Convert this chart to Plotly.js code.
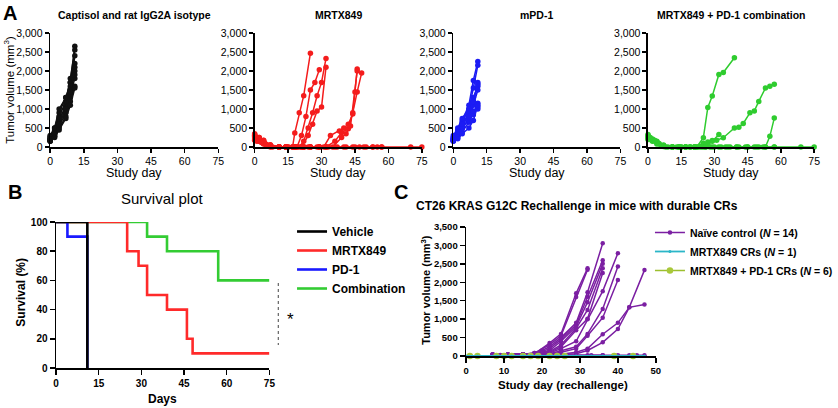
<!DOCTYPE html>
<html><head><meta charset="utf-8">
<script src="https://cdn.plot.ly/plotly-3.0.1.min.js"></script>
<style>html,body{margin:0;padding:0;background:#fff}#chart{width:838px;height:408px}</style>
</head><body><div id="chart"></div>
<script>
const W = 838, H = 408;
const FONT = 'Arial, "Liberation Sans", sans-serif';

// ---------- Panel A data ----------
const panelATitles = ['Captisol and rat IgG2A isotype', 'MRTX849', 'mPD-1', 'MRTX849 + PD-1 combination'];
const studyDayTicks = [0, 15, 30, 45, 60, 75];
const volumeTicksA = [0, 500, 1000, 1500, 2000, 2500, 3000];

const vehicleDays = [0, 2, 4, 7, 9, 11];
const vehicleVolumes = [
  [200, 400, 700, 1100, 1700, 2650],
  [250, 450, 800, 1200, 1800, 2550],
  [150, 350, 600, 1000, 1500, 2400],
  [300, 500, 900, 1300, 1700, 2200],
  [180, 300, 550, 900, 1300, 2000],
  [220, 420, 750, 1000, 1400, 1800],
  [170, 280, 500, 800, 1200, 1600],
  [260, 500, 1000, 1300, 1600, 1900],
  [200, 350, 600, 1000, 1450, 2100],
  [150, 250, 450, 750, 1100, 1550]
];

const mrtxDays = [
  [0, 2, 4, 7, 11, 14, 17, 18, 20, 22, 25],
  [0, 2, 4, 7, 11, 14, 17, 19, 21, 23, 25, 27, 29],
  [0, 2, 4, 7, 11, 14, 18, 20, 22, 24, 26, 28, 30, 32],
  [0, 2, 4, 7, 11, 14, 18, 21, 24, 26, 28, 30, 32],
  [0, 2, 4, 7, 11, 14, 18, 22, 25, 29, 31, 34, 38, 40, 42, 44, 46],
  [0, 2, 4, 7, 11, 14, 18, 22, 25, 29, 32, 36, 39, 42, 44, 46, 48],
  [0, 2, 4, 7, 11, 14, 18, 22, 25, 29, 32, 35, 39, 41, 43, 45, 46],
  [0, 2, 4, 7, 11, 15, 18, 22, 25, 29, 32, 36, 40, 44, 47, 50, 53, 55, 57],
  [0, 2, 4, 7, 11, 15, 18, 22, 25, 29, 33, 37, 41, 45, 49, 53, 57, 70, 75],
  [0, 1, 3, 5, 8, 11, 14, 17, 19, 21, 24, 28]
];
const mrtxVolumes = [
  [300, 220, 150, 40, 0, 0, 0, 370, 900, 1350, 2470],
  [250, 180, 100, 20, 0, 0, 0, 0, 300, 800, 1500, 1700, 2030],
  [350, 250, 180, 50, 0, 0, 0, 0, 150, 500, 900, 1350, 1700, 2330],
  [200, 150, 80, 0, 0, 0, 0, 0, 300, 600, 950, 1050, 2100],
  [280, 200, 120, 30, 0, 0, 0, 0, 0, 0, 0, 300, 420, 500, 600, 870, 2050],
  [220, 160, 90, 10, 0, 0, 0, 0, 0, 0, 0, 150, 380, 480, 900, 1450, 1950],
  [330, 250, 170, 60, 0, 0, 0, 0, 0, 0, 0, 0, 250, 350, 550, 1450, 2000],
  [260, 200, 100, 20, 0, 0, 0, 0, 0, 0, 0, 0, 0, 0, 0, 0, 0, 0, 0],
  [310, 230, 140, 30, 0, 0, 0, 0, 0, 0, 0, 0, 0, 0, 0, 0, 0, 0, 0],
  [180, 150, 120, 60, 0, 0, 0, 0, 0, 0, 0, 0]
];

const pd1Days = [0, 2, 4, 7, 9, 11];
const pd1Volumes = [
  [250, 450, 700, 1100, 1750, 2250],
  [200, 400, 650, 1000, 1550, 2150],
  [150, 300, 550, 850, 1200, 1700],
  [300, 500, 750, 1000, 1300, 1600],
  [180, 350, 500, 750, 1100, 1500],
  [220, 380, 600, 900, 1200, 1650],
  [160, 250, 400, 650, 900, 1150],
  [200, 300, 500, 700, 850, 1050],
  [250, 400, 600, 800, 950, 1000],
  [170, 220, 350, 500, 700, 1100]
];

const comboDays = [
  [0, 2, 4, 7, 11, 14, 17, 19, 22, 25, 27, 29, 32, 34, 39],
  [0, 2, 4, 7, 11, 14, 17, 21, 25, 27, 29, 31, 34, 39, 41, 43, 46, 48, 50, 53, 55, 57],
  [0, 2, 4, 7, 11, 14, 17, 21, 25, 27, 29, 32],
  [0, 2, 4, 7, 11, 14, 17, 21, 25, 29, 33, 37, 41, 45, 49, 53, 55, 57],
  [0, 1, 3, 5, 7, 11, 15, 19, 22, 26, 30, 35, 40, 45, 50, 53, 57, 69, 75],
  [0, 2, 4, 6, 9, 13, 17, 21, 24, 28, 32, 36, 40, 44, 48, 52, 57],
  [0, 1, 3, 5, 8, 11, 15, 19, 23, 26]
];
const comboVolumes = [
  [300, 200, 150, 50, 0, 0, 0, 0, 0, 245, 1040, 1340, 1910, 1960, 2350],
  [250, 180, 120, 30, 0, 0, 0, 0, 50, 130, 170, 180, 245, 500, 520, 620, 900, 950, 1200, 1550, 1600, 1650],
  [280, 210, 140, 40, 0, 0, 0, 0, 100, 60, 150, 330],
  [200, 150, 80, 10, 0, 0, 0, 0, 0, 0, 0, 0, 0, 0, 0, 0, 280, 760],
  [330, 250, 180, 90, 20, 0, 0, 0, 0, 0, 0, 0, 0, 0, 0, 0, 0, 0, 0],
  [220, 170, 110, 40, 0, 0, 0, 0, 0, 0, 0, 0, 0, 0, 0, 0, 0],
  [260, 200, 150, 80, 0, 0, 0, 0, 0, 0]
];

// ---------- Panel B data (Kaplan-Meier steps) ----------
const survivalTicksX = [0, 15, 30, 45, 60, 75];
const survivalTicksY = [0, 20, 40, 60, 80, 100];
const vehicleSurvDays = [0, 11, 11];
const vehicleSurv = [100, 0, 0];
const mrtxSurvDays = [0, 25, 29, 32, 39, 46, 48, 75];
const mrtxSurv = [100, 80, 70, 50, 40, 20, 10, 10];
const pd1SurvDays = [0, 4, 11, 11];
const pd1Surv = [100, 90, 0, 0];
const comboSurvDays = [0, 32, 39, 57, 75];
const comboSurv = [100, 90, 80, 60, 60];

// ---------- Panel C data ----------
const rechallengeTicksX = [0, 10, 20, 30, 40, 50];
const volumeTicksC = [0, 500, 1000, 1500, 2000, 2500, 3000, 3500];
const naiveDays = [
  [7, 11, 15, 18, 22, 25, 29, 32],
  [7, 11, 15, 18, 22, 25, 29, 32],
  [7, 11, 15, 18, 20, 22, 25, 29, 32, 36],
  [7, 11, 15, 18, 20, 22, 25, 29, 32, 36],
  [7, 11, 15, 18, 20, 22, 25, 29, 32, 36],
  [7, 11, 15, 18, 20, 22, 25, 29, 32, 36],
  [7, 11, 15, 18, 20, 22, 25, 29, 32, 36],
  [7, 11, 15, 18, 22, 25, 29, 32, 36, 40],
  [7, 11, 15, 18, 22, 25, 29, 32, 36, 40],
  [7, 11, 15, 18, 22, 25, 29, 32, 36, 40],
  [7, 11, 15, 18, 22, 25, 29, 32, 36, 40, 43, 47],
  [7, 11, 15, 18, 22, 25, 29, 32, 36, 40, 43, 47],
  [7, 9, 11, 15, 18, 20, 22, 25, 29, 33, 36, 40, 43, 45, 47],
  [7, 11, 15, 18, 22, 25, 29, 32, 36]
];
const naiveVolumes = [
  [40, 40, 50, 60, 350, 600, 1700, 2380],
  [30, 30, 40, 80, 300, 550, 1600, 2340],
  [40, 40, 50, 80, 150, 250, 500, 900, 1730, 3060],
  [30, 30, 40, 70, 120, 200, 450, 850, 1610, 2600],
  [40, 40, 40, 60, 100, 150, 400, 800, 1460, 2500],
  [30, 30, 40, 50, 80, 120, 300, 750, 1250, 2380],
  [30, 40, 40, 50, 70, 100, 250, 700, 1010, 2250],
  [30, 30, 40, 50, 80, 200, 400, 1000, 1760, 2790],
  [30, 30, 40, 50, 60, 150, 250, 600, 1275, 2430],
  [30, 30, 40, 40, 50, 100, 200, 550, 1040, 2060],
  [40, 40, 40, 50, 30, 50, 100, 200, 590, 900, 1320, 2330],
  [30, 30, 40, 40, 20, 40, 60, 150, 370, 730, 1320, 1400],
  [40, 30, 40, 50, 40, 30, 20, 20, 20, 20, 20, 20, 20, 20, 20],
  [30, 30, 30, 30, 20, 20, 20, 20, 20]
];
const mrtxCrDays = [0, 3, 8, 12, 15, 17, 19, 22, 24, 26, 29, 33, 36, 40, 43, 47];
const mrtxCrVolumes = [0, 0, 0, 0, 0, 0, 0, 0, 0, 0, 0, 0, 0, 0, 0, 0];
const comboCrDays = [1, 3, 8, 10, 12, 15, 17, 19, 22, 24, 26, 39, 44];
const comboCrVolumes = [0, 0, 0, 0, 0, 0, 0, 0, 0, 0, 0, 0, 0];

// ---------- layout helpers ----------
const px = x => x / W;
const py = y => 1 - y / H;

const traces = [];
function mice(daysList, volList, xa, ya, color, sharedDays) {
  volList.forEach((v, i) => {
    traces.push({
      x: sharedDays ? daysList : daysList[i], y: v, xaxis: xa, yaxis: ya,
      type: 'scatter', mode: 'lines+markers', showlegend: false, cliponaxis: false,
      line: {color: color, width: 1.5}, marker: {color: color, size: 5.5}, hoverinfo: 'skip'
    });
  });
}
mice(vehicleDays, vehicleVolumes, 'x', 'y', '#111111', true);
mice(mrtxDays, mrtxVolumes, 'x2', 'y2', '#f41c1c', false);
mice(pd1Days, pd1Volumes, 'x3', 'y3', '#1c1cf4', true);
mice(comboDays, comboVolumes, 'x4', 'y4', '#2fcc2f', false);

// survival (drawn back-to-front; legendrank keeps reference order)
function surv(name, d, s, color, rank) {
  traces.push({x: d, y: s, xaxis: 'x5', yaxis: 'y5', type: 'scatter', mode: 'lines', name: name,
    line: {color: color, width: 2.6, shape: 'hv'}, legend: 'legend', legendrank: rank,
    legendgroup: name, cliponaxis: false});
}
surv('Combination', comboSurvDays, comboSurv, '#33cc33', 4);
surv('MRTX849', mrtxSurvDays, mrtxSurv, '#ff2a2a', 2);
surv('PD-1', pd1SurvDays, pd1Surv, '#1a1aff', 3);
surv('Vehicle', vehicleSurvDays, vehicleSurv, '#000000', 1);

// rechallenge
naiveVolumes.forEach((v, i) => {
  traces.push({x: naiveDays[i], y: v, xaxis: 'x6', yaxis: 'y6', type: 'scatter', mode: 'lines+markers',
    name: 'Naïve control (<i>N</i> = 14)', legend: 'legend2', legendgroup: 'naive', legendrank: 1,
    showlegend: i === 0,
    line: {color: '#7b1fa2', width: 1.5}, marker: {color: '#7b1fa2', size: 4.5}, cliponaxis: false});
});
traces.push({x: comboCrDays, y: comboCrVolumes, xaxis: 'x6', yaxis: 'y6', type: 'scatter', mode: 'lines+markers',
  name: 'MRTX849 + PD-1 CRs (<i>N</i> = 6)', legend: 'legend2', legendrank: 3, legendgroup: 'combo',
  line: {color: '#9cbf2e', width: 1.5}, marker: {color: '#a9c83a', size: 6.5}, cliponaxis: false});
traces.push({x: mrtxCrDays, y: mrtxCrVolumes, xaxis: 'x6', yaxis: 'y6', type: 'scatter', mode: 'lines+markers',
  name: 'MRTX849 CRs (<i>N</i> = 1)', legend: 'legend2', legendrank: 2, legendgroup: 'mcr',
  line: {color: '#2bb6c8', width: 1.8}, marker: {color: '#2bb6c8', size: 3}, cliponaxis: false});

function axis(x0, x1, range, tickvals, anchor, font, fmt, tl) {
  return {
    domain: [x0, x1], range: range, tickvals: tickvals, anchor: anchor,
    showline: true, linecolor: '#000', linewidth: 1.5, mirror: false,
    ticks: 'outside', ticklen: tl || 5, tickwidth: 1.5, tickcolor: '#000',
    showgrid: false, zeroline: false, tickfont: font, tickformat: fmt || '', fixedrange: true
  };
}
const fA = {family: FONT, size: 10.5, color: '#000'};
const fB = {family: FONT, size: 10, color: '#000', weight: 'bold'};
const fC = {family: FONT, size: 9.5, color: '#000', weight: 'bold'};

const yA = [py(147), py(33)];
const layout = {
  width: W, height: H, margin: {l: 0, r: 0, t: 0, b: 0}, autosize: false,
  paper_bgcolor: '#fff', plot_bgcolor: 'rgba(0,0,0,0)', font: {family: FONT, color: '#000'},
  xaxis: axis(px(51), px(222), [0, 75], studyDayTicks, 'y', fA, '', 4),
  yaxis: axis(yA[0], yA[1], [0, 3000], volumeTicksA, 'x', fA, ',d', 4),
  xaxis2: axis(px(259), px(429), [0, 75], studyDayTicks, 'y2', fA, '', 4),
  yaxis2: axis(yA[0], yA[1], [0, 3000], volumeTicksA, 'x2', fA, ',d', 4),
  xaxis3: axis(px(461), px(631), [0, 75], studyDayTicks, 'y3', fA, '', 4),
  yaxis3: axis(yA[0], yA[1], [0, 3000], volumeTicksA, 'x3', fA, ',d', 4),
  xaxis4: axis(px(659), px(828), [0, 75], studyDayTicks, 'y4', fA, '', 4),
  yaxis4: axis(yA[0], yA[1], [0, 3000], volumeTicksA, 'x4', fA, ',d', 4),
  xaxis5: axis(px(57), px(274), [0, 75], survivalTicksX, 'y5', fB),
  yaxis5: axis(py(368), py(222), [0, 100], survivalTicksY, 'x5', fB),
  xaxis6: axis(px(474), px(667), [0, 50], rechallengeTicksX, 'y6', fC),
  yaxis6: axis(py(356), py(227), [0, 3500], volumeTicksC, 'x6', fC, ',d'),
  legend: {x: px(297), y: py(217), xanchor: 'left', yanchor: 'top', bgcolor: 'rgba(0,0,0,0)',
    font: {family: FONT, size: 12, color: '#000', weight: 'bold'}, tracegroupgap: 1, traceorder: 'normal'},
  legend2: {x: px(661), y: py(218), xanchor: 'left', yanchor: 'top', bgcolor: 'rgba(0,0,0,0)',
    font: {family: FONT, size: 10.5, color: '#000', weight: 'bold'}, tracegroupgap: 0, traceorder: 'normal'},
  shapes: [
    {type: 'line', xref: 'paper', yref: 'paper', x0: px(283), x1: px(283), y0: py(283), y1: py(345),
      line: {color: '#444', width: 1, dash: 'dot'}}
  ],
  annotations: []
};

const ann = layout.annotations;
function text(t, x, y, size, bold, opts) {
  ann.push(Object.assign({text: t, xref: 'paper', yref: 'paper', x: px(x), y: py(y), showarrow: false,
    xanchor: 'center', yanchor: 'middle',
    font: {family: FONT, size: size, color: '#000', weight: bold ? 'bold' : 'normal'}}, opts || {}));
}
// panel letters
text('A', 10, 13, 20, true);
text('B', 15, 192, 20, true);
text('C', 408, 192, 20, true);
// panel A titles
const aCenters = [136.5, 344, 546, 743.5];
panelATitles.forEach((t, i) => text(t, aCenters[i], 15, 10.5, true));
aCenters.forEach(c => text('Study day', c, 173, 12.5, false));
text('Tumor volume (mm<sup>3</sup>)', 9, 90, 11.5, false, {textangle: -90});
// panel B
text('Survival plot', 165, 198, 15, false);
text('Days', 165, 399, 12, true);
text('Survival (%)', 21, 292, 12, true, {textangle: -90});
text('*', 295, 319, 17, false);
// panel C
text('CT26 KRAS G12C Rechallenge in mice with durable CRs', 421, 206, 12, true, {xanchor: 'left'});
text('Study day (rechallenge)', 573, 385, 11.5, true);
text('Tumor volume (mm<sup>3</sup>)', 433, 290, 11, true, {textangle: -90});

Plotly.newPlot('chart', traces, layout, {staticPlot: true, displayModeBar: false});
</script></body></html>
